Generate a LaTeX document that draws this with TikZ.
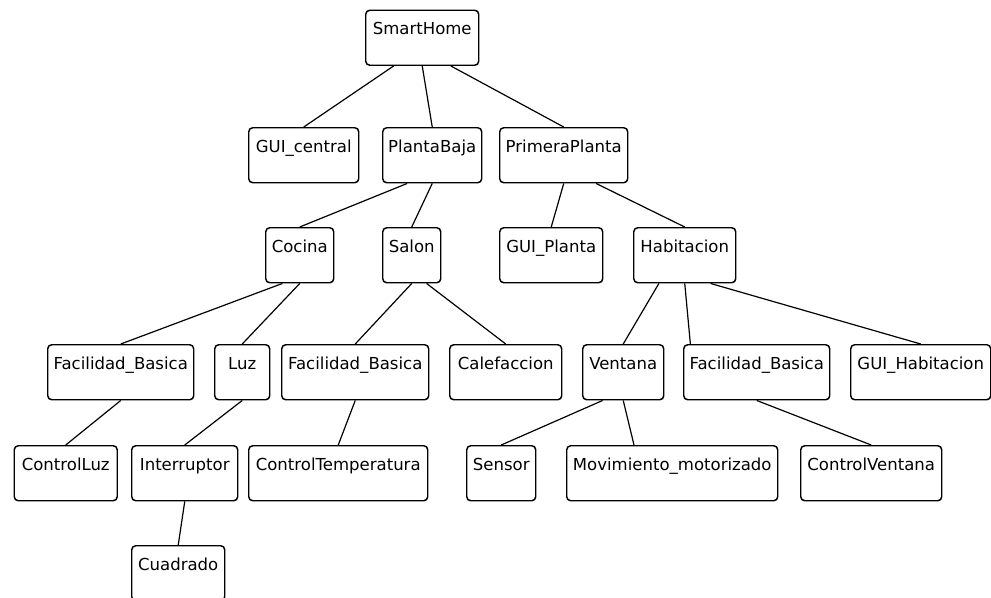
\documentclass[tikz,border=0pt]{standalone}
\usepackage{fontspec}
\setmainfont{DejaVu Sans}
\usetikzlibrary{calc}

\tikzset{
  box/.style={draw=black, line width=1.1pt, rounded corners=3pt, rectangle,
    anchor=north west, inner xsep=0pt, inner ysep=0pt, align=center,
    font=\fontsize{12.4pt}{14pt}\selectfont,
    text height=18.3pt, text depth=22.95pt},
  bw/.style={minimum width=#1*0.75pt, text width=#1*0.75pt},
  link/.style={draw=black, line width=0.9pt},
}

\begin{document}
\begin{tikzpicture}[x=0.75pt, y=-0.75pt]
\useasboundingbox[fill=white] (0,0) rectangle (991,597);

% level 0
\node[box, bw=113] (smart) at (365,9.5) {SmartHome};
% level 1
\node[box, bw=110] (guic)    at (248,127) {GUI\_central};
\node[box, bw=99]  (pbaja)   at (382,127) {PlantaBaja};
\node[box, bw=128] (pplanta) at (499,127) {PrimeraPlanta};
% level 2
\node[box, bw=68]  (cocina) at (265,227) {Cocina};
\node[box, bw=58]  (salon)  at (382,227) {Salon};
\node[box, bw=103] (guip)   at (499,227) {GUI\_Planta};
\node[box, bw=102] (hab)    at (633,227) {Habitacion};
% level 3
\node[box, bw=146] (fba)   at (47,344)  {Facilidad\_Basica};
\node[box, bw=55]  (luz)   at (214,344) {Luz};
\node[box, bw=147] (fbb)   at (281,344) {Facilidad\_Basica};
\node[box, bw=112] (calef) at (449,344) {Calefaccion};
\node[box, bw=81]  (vent)  at (582,344) {Ventana};
\node[box, bw=146] (fbc)   at (683,344) {Facilidad\_Basica};
\node[box, bw=140] (guih)  at (850,344) {GUI\_Habitacion};
% level 4
\node[box, bw=103] (cluz)   at (13.5,445) {ControlLuz};
\node[box, bw=106] (interr) at (131,445)  {Interruptor};
\node[box, bw=179] (ctemp)  at (248,445)  {ControlTemperatura};
\node[box, bw=69]  (sensor) at (466,445)  {Sensor};
\node[box, bw=211] (movim)  at (566,445)  {Movimiento\_motorizado};
\node[box, bw=141] (cvent)  at (800,445)  {ControlVentana};
% level 5
\node[box, bw=93]  (cuad)   at (131,545)  {Cuadrado};

% connectors: parent bottom edge -> child top
\draw[link] ($(smart.south west)!0.25!(smart.south east)$) -- (guic.north);
\draw[link] (smart.south) -- (pbaja.north);
\draw[link] ($(smart.south west)!0.75!(smart.south east)$) -- (pplanta.north);

\draw[link] ($(pbaja.south west)!0.25!(pbaja.south east)$) -- (cocina.north);
\draw[link] (pbaja.south) -- (salon.north);

\draw[link] (pplanta.south) -- (guip.north);
\draw[link] ($(pplanta.south west)!0.75!(pplanta.south east)$) -- (hab.north);

\draw[link] ($(cocina.south west)!0.25!(cocina.south east)$) -- (fba.north);
\draw[link] (cocina.south) -- (luz.north);

\draw[link] (salon.south) -- (fbb.north);
\draw[link] ($(salon.south west)!0.75!(salon.south east)$) -- (calef.north);

\draw[link] ($(hab.south west)!0.25!(hab.south east)$) -- (vent.north);
\draw[link] (hab.south) -- ($(fbc.north west)!0.05!(fbc.north east)$);
\draw[link] ($(hab.south west)!0.75!(hab.south east)$) -- (guih.north);

\draw[link] (fba.south) -- (cluz.north);
\draw[link] (luz.south) -- (interr.north);
\draw[link] (fbb.south) -- (ctemp.north);

\draw[link] ($(vent.south west)!0.25!(vent.south east)$) -- (sensor.north);
\draw[link] (vent.south) -- ($(movim.north west)!0.32!(movim.north east)$);
\draw[link] (fbc.south) -- (cvent.north);

\draw[link] (interr.south) -- (cuad.north);
\end{tikzpicture}
\end{document}
